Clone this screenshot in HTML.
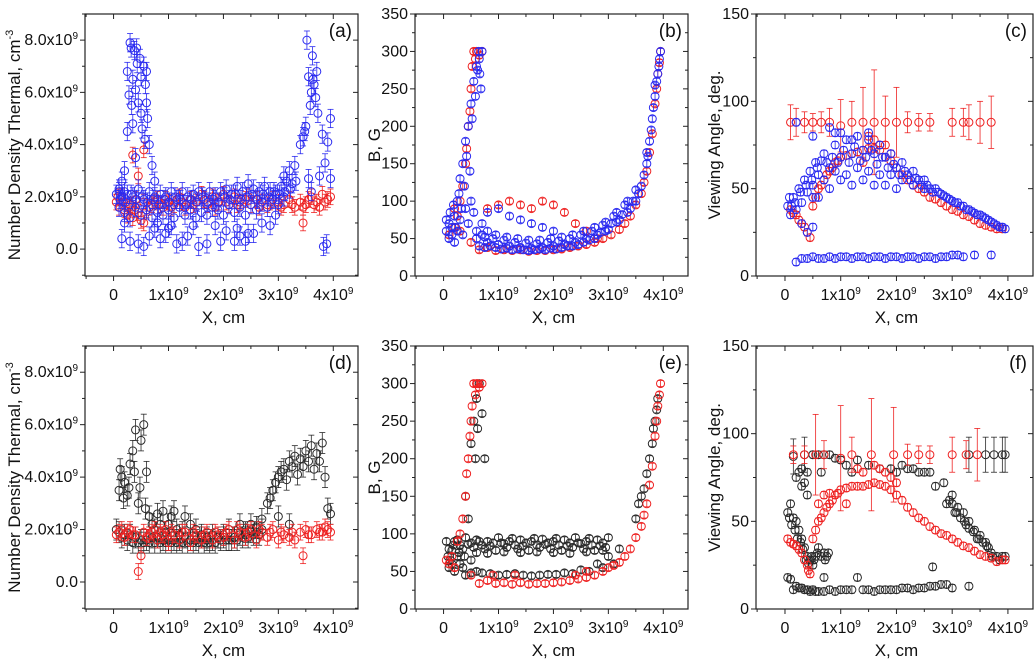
<!DOCTYPE html>
<html><head><meta charset="utf-8"><style>
html,body{margin:0;padding:0;background:#fff;width:1036px;height:664px;overflow:hidden}
svg{font-family:"Liberation Sans",sans-serif}
</style></head><body>
<svg id="fig" width="1036" height="664" viewBox="0 0 1036 664" xmlns="http://www.w3.org/2000/svg"></svg>
<script>
// ---- data (x in units of 1e9 cm) ----
const aBlue=[[0.1,2.2],[0.15,2.6],[0.2,3.0],[0.25,4.5],[0.28,5.9],[0.3,7.9],[0.32,7.7],[0.35,6.5],[0.38,7.6],[0.4,6.1],[0.43,7.1],[0.45,5.6],[0.48,7.3],[0.5,6.6],[0.52,4.6],[0.55,7.0],[0.58,6.3],[0.6,5.6],[0.62,5.0],[0.7,3.2],[0.65,4.0],[0.4,3.5],[0.35,4.8],[0.2,1.0],[0.15,0.4],[0.3,0.3],[0.45,0.2],[0.55,0.1],[0.65,0.5],[0.75,0.8],[0.85,0.4],[0.95,0.6],[1.05,0.9],[1.15,0.2],[1.25,0.3],[1.35,0.5],[1.45,0.9],[1.55,0.1],[1.7,0.2],[1.85,0.9],[1.95,0.3],[2.05,0.7],[2.2,0.3],[2.3,0.5],[2.4,0.3],[2.55,0.6],[2.7,1.0],[2.85,0.9],[2.95,1.3],
[0.05,2.1],[0.1,2.3],[0.15,2.0],[0.2,2.2],[0.25,2.1],[0.35,2.0],[0.45,2.3],[0.55,1.9],[0.65,2.2],[0.75,2.0],[0.85,2.1],[0.95,2.0],[1.05,2.2],[1.15,1.9],[1.25,2.2],[1.35,2.0],[1.45,2.1],[1.55,2.2],[1.65,1.9],[1.75,2.2],[1.85,2.0],[1.95,2.2],[2.05,2.3],[2.15,2.1],[2.25,2.4],[2.35,2.2],[2.45,2.5],[2.55,2.3],[2.65,2.2],[2.75,2.4],[2.85,2.2],[2.95,2.1],[3.05,2.4],[3.15,2.6],[3.25,2.5],
[0.1,1.6],[0.2,1.4],[0.3,1.2],[0.4,1.6],[0.5,1.3],[0.6,1.5],[0.7,1.2],[0.8,1.4],[0.9,1.3],[1.0,1.5],[1.1,1.2],[1.2,1.6],[1.3,1.3],[1.4,1.5],[1.5,1.2],[1.6,1.4],[1.7,1.3],[1.8,1.6],[1.9,1.5],[2.0,1.3],[2.1,1.7],[2.2,1.4],[2.3,1.6],[2.4,1.3],[2.5,1.7],[2.6,1.5],[2.7,1.8],[2.8,1.6],[2.9,1.9],[3.0,1.7],[3.1,2.0],
[3.1,2.8],[3.2,3.0],[3.3,3.2],[3.4,4.0],[3.45,4.3],[3.5,4.7],[3.52,8.0],[3.55,6.6],[3.6,6.0],[3.62,7.4],[3.65,6.3],[3.7,6.8],[3.72,5.2],[3.75,2.8],[3.8,4.4],[3.82,0.1],[3.85,3.3],[3.88,0.2],[3.9,4.1],[3.95,5.0],[3.95,2.7],[3.55,2.7],[3.6,2.2],
[0.12,1.9],[0.22,1.8],[0.32,2.1],[0.42,1.9],[0.52,2.0],[0.62,1.8],[0.72,1.9],[0.82,1.7],[0.92,1.9],[1.02,1.8],[1.12,2.0],[1.22,1.9],[1.32,1.7],[1.42,1.9],[1.52,1.8],[1.62,2.0],[1.72,1.8],[1.82,1.9],[1.92,1.8],[2.02,2.0],[2.12,1.9],[2.22,2.1],[2.32,1.9],[2.42,2.0],[2.52,2.1],[2.62,1.9],[2.72,2.1],[2.82,2.0],[2.92,2.2],[3.02,2.1],[3.12,2.2],[3.22,2.3],[3.32,2.6],
[0.25,6.8],[0.42,7.7],[0.5,5.2],[0.57,4.2],[0.6,6.8],[0.33,5.5],[3.48,4.5],[3.58,5.5],[3.68,5.8],[3.63,6.5],[0.75,2.6],[0.8,1.0],[1.0,0.8],[2.25,0.8],[2.45,0.6]];
const aRed=[[0.05,1.8],[0.1,1.6],[0.15,2.0],[0.2,1.5],[0.25,1.3],[0.3,1.7],[0.35,1.2],[0.4,1.9],[0.45,1.4],[0.5,1.1],[0.55,1.8],[0.6,1.5],[0.7,1.7],[0.8,1.9],[0.9,1.6],[1.0,1.8],[1.1,1.7],[1.2,2.0],[1.3,1.6],[1.4,1.9],[1.5,1.8],[1.6,2.1],[1.7,1.7],[1.8,2.0],[1.9,1.8],[2.0,2.1],[2.1,1.7],[2.2,2.0],[2.3,1.8],[2.4,1.9],[2.5,1.7],[2.6,1.9],[2.7,1.8],[2.8,1.7],[2.9,1.9],[3.0,1.8],[3.1,1.7],[3.2,1.9],[3.3,1.6],[3.4,1.8],[3.5,1.7],[3.6,2.0],[3.7,1.8],[3.8,2.1],[3.9,1.9],[3.95,2.0],[0.35,3.6],[0.55,3.8],[0.45,2.8],[3.45,1.0],[0.55,1.0],
[0.08,2.0],[0.18,1.8],[0.28,1.6],[0.38,1.5],[0.65,1.6],[0.75,1.8],[0.85,1.7],[0.95,1.9],[1.05,1.6],[1.25,1.8],[1.45,1.7],[1.65,1.9],[1.85,1.6],[2.05,1.8],[2.25,1.7],[2.45,2.0],[2.65,1.6],[2.85,1.8],[3.05,1.6],[3.25,1.7],[3.45,1.6],[3.65,1.7],[3.85,1.8],[3.75,1.6],[3.55,1.9]];
const dBlack=[[0.05,2.0],[0.1,3.5],[0.15,4.0],[0.2,3.8],[0.25,3.3],[0.3,4.5],[0.35,5.0],[0.4,5.8],[0.45,3.0],[0.5,5.4],[0.55,6.0],[0.6,4.2],[0.65,2.5],[0.7,2.2],[0.8,2.6],[0.9,2.7],[1.0,2.2],[1.1,2.7],[1.2,1.8],[1.3,2.5],[1.4,2.2],[1.5,2.0],[1.6,1.8],[1.7,1.7],[1.8,1.8],[1.9,1.7],[2.0,1.8],[2.1,2.0],[2.2,1.7],[2.3,2.2],[2.4,1.9],[2.5,2.2],[2.6,2.1],[2.7,2.4],[2.8,3.0],[2.9,3.5],[3.0,4.0],[3.1,4.3],[3.2,4.6],[3.3,4.8],[3.4,4.7],[3.5,5.0],[3.6,5.2],[3.7,4.9],[3.8,5.3],[3.9,2.8],[3.95,2.6],
[0.1,1.9],[0.2,1.8],[0.3,1.8],[0.5,1.6],[0.7,1.7],[0.9,1.6],[1.1,1.6],[1.3,1.7],[1.5,1.6],[1.7,1.6],[1.9,1.7],[2.1,1.6],[2.3,1.8],[2.5,1.9],[2.7,2.0],[3.0,2.5],[3.2,2.2],[0.4,1.7],[0.6,1.6],[0.8,1.7],[1.0,1.6],[1.2,1.6],[1.4,1.6],[1.6,1.7],[1.8,1.6],[2.0,1.7],[2.2,1.7],[2.4,1.8],[2.6,1.9],
[0.12,4.3],[0.18,3.2],[0.28,3.6],[0.38,4.2],[0.48,3.6],[0.58,2.8],[0.75,2.0],[0.85,2.2],[0.95,1.9],[1.05,2.5],[1.15,2.0],[1.25,1.9],[2.85,3.2],[2.95,3.8],[3.05,4.2],[3.15,3.9],[3.25,4.4],[3.35,4.1],[3.45,4.4],[3.55,4.6],[3.65,4.3],[3.75,4.6],[3.85,4.0],[0.15,1.7],[0.25,1.6],[0.35,1.5],[0.45,1.5],[0.55,1.5],[0.65,1.5],[0.75,1.5],[0.85,1.5],[0.95,1.5],[1.05,1.5],[1.15,1.5],[1.25,1.5],[1.35,1.5],[1.45,1.5],[1.55,1.5],[1.65,1.5],[1.75,1.5],[1.85,1.5],[1.95,1.6],[2.05,1.6],[2.15,1.6],[2.25,1.6],[2.35,1.7],[2.45,1.7],[2.55,1.8],[2.65,1.8]];
const dRed=[[0.05,1.8],[0.1,1.9],[0.2,1.7],[0.3,2.0],[0.4,1.8],[0.5,1.0],[0.45,0.4],[0.6,1.7],[0.7,1.9],[0.8,1.6],[0.9,1.8],[1.0,1.5],[1.1,1.8],[1.2,1.6],[1.3,1.9],[1.4,1.5],[1.5,1.8],[1.6,1.6],[1.7,1.9],[1.8,1.6],[1.9,1.8],[2.0,1.7],[2.1,2.0],[2.2,1.6],[2.3,1.9],[2.4,1.7],[2.5,2.0],[2.6,1.6],[2.7,1.9],[2.8,1.7],[2.9,2.0],[3.0,1.6],[3.1,1.8],[3.2,1.7],[3.3,1.6],[3.4,1.9],[3.45,1.0],[3.5,2.0],[3.6,1.8],[3.7,2.0],[3.8,1.9],[3.9,2.0],[3.95,1.9],
[0.15,2.0],[0.25,1.9],[0.35,1.8],[0.55,1.9],[0.65,1.8],[0.75,2.0],[0.85,1.9],[0.95,2.0],[1.05,1.9],[1.25,1.9],[1.45,1.9],[1.65,1.8],[1.85,1.9],[2.05,1.9],[2.25,2.0],[2.45,1.9],[2.65,2.0],[2.85,1.9],[3.05,1.9],[3.25,1.9],[3.55,1.8],[3.75,1.9],[3.85,2.1]];
const bBlue=[[0.05,60],[0.1,70],[0.15,55],[0.2,80],[0.25,100],[0.3,130],[0.35,150],[0.4,180],[0.45,200],[0.5,230],[0.55,260],[0.6,280],[0.65,290],[0.7,300],[0.62,275],[0.68,250],
[0.1,50],[0.15,65],[0.2,45],[0.25,60],[0.3,75],[0.35,55],[0.4,90],[0.45,70],[0.5,100],[0.55,85],[0.6,60],[0.7,70],[0.8,60],
[0.6,50],[0.8,45],[1.0,42],[1.2,40],[1.4,38],[1.6,37],[1.8,38],[2.0,40],[2.2,42],[2.4,45],[2.6,50],[2.8,55],[3.0,62],[3.2,75],[3.4,90],[3.5,100],[3.6,120],[3.7,150],[3.75,180],[3.8,210],[3.85,240],[3.9,270],[3.93,290],[3.95,300],
[0.7,55],[0.9,50],[1.1,48],[1.3,45],[1.5,44],[1.7,43],[1.9,45],[2.1,47],[2.3,50],[2.5,55],[2.7,60],[2.9,68],[3.1,80],[3.3,95],[3.5,115],[3.7,165],[3.85,255],
[0.8,85],[1.0,90],[1.2,80],[1.4,75],[1.6,70],[1.8,65],[2.0,60],
[0.05,75],[0.12,85],[0.18,95],[0.22,65],[0.28,110],[0.32,90],[0.38,120],[0.42,160],[0.48,140],[0.52,210],[0.58,240],[0.64,300],[0.66,270],
[0.65,40],[0.75,38],[0.85,40],[0.95,38],[1.05,36],[1.15,37],[1.25,35],[1.35,36],[1.45,35],[1.55,34],[1.65,35],[1.75,36],[1.85,35],[1.95,37],[2.05,36],[2.15,38],[2.25,40],[2.35,40],[2.45,42],[2.55,45],[2.65,48],[2.75,50],[2.85,58],[2.95,60],[3.05,70],[3.15,72],[3.25,82],[3.35,85],[3.45,100],[3.55,110],[3.65,135],[3.72,160],[3.78,195],[3.82,225],[3.88,260],[3.92,280],
[0.75,52],[0.95,55],[1.15,52],[1.35,50],[1.55,48],[1.75,48],[1.95,50],[2.15,52],[2.35,55],[2.55,60],[2.75,65],[2.95,72],[3.15,85],[3.35,100]];
const bRed=[[0.3,100],[0.4,150],[0.45,200],[0.5,250],[0.55,300],[0.6,300],[0.65,295],[0.7,300],[0.5,45],[0.8,38],[1.1,35],[1.4,35],[1.7,34],[2.0,35],[2.3,38],[2.6,42],[2.9,50],[3.2,62],[3.4,80],[3.6,110],[3.7,140],[3.8,190],[3.85,230],[3.9,270],[3.95,300],
[0.8,90],[1.0,95],[1.2,100],[1.4,95],[1.6,90],[1.8,100],[2.0,95],[2.2,85],[2.4,70],[2.6,60],[2.8,50],[0.1,55],[0.2,65],[0.3,60],
[0.35,120],[0.42,170],[0.48,220],[0.52,280],[0.58,290],[0.25,80],[0.2,90],[0.65,35],[0.95,34],[1.25,34],[1.55,33],[1.85,34],[2.15,36],[2.45,40],[2.75,45],[3.05,55],[3.3,70],[3.5,95],[3.65,125],[3.75,165],[3.88,250],[3.93,285]];
const eBlack=[[0.1,80],[0.2,90],[0.3,85],[0.4,95],[0.5,88],[0.6,92],[0.7,85],[0.8,90],[0.9,88],[1.0,95],[1.1,87],[1.2,90],[1.3,85],[1.4,92],[1.5,88],[1.6,90],[1.7,85],[1.8,93],[1.9,88],[2.0,90],[2.1,85],[2.2,92],[2.3,88],[2.4,95],[2.5,87],[2.6,90],[2.7,85],[2.8,92],[2.9,88],[3.0,95],
[0.15,78],[0.35,80],[0.55,82],[0.75,80],[0.95,78],[1.15,82],[1.35,80],[1.55,78],[1.75,82],[1.95,80],[2.15,78],[2.35,82],[2.55,80],[2.75,78],[2.95,82],
[0.1,55],[0.2,50],[0.3,60],[0.4,45],[0.7,48],[1.0,45],[1.3,47],[1.6,44],[1.9,46],[2.2,48],[2.5,52],[2.8,60],[3.0,70],[3.2,80],
[0.4,150],[0.5,220],[0.55,250],[0.6,280],[0.65,300],[0.75,200],[3.5,120],[3.6,150],[3.7,180],[3.8,220],[3.85,250],[3.9,280],
[0.25,92],[0.45,86],[0.65,90],[0.85,84],[1.05,88],[1.25,94],[1.45,84],[1.65,94],[1.85,86],[2.05,94],[2.25,84],[2.45,88],[2.65,94],[2.85,84],[0.05,90],[0.08,70],[0.12,65],[0.18,85],[0.28,75],[0.38,70],[0.5,65],[0.6,75],[0.8,74],[1.1,76],[1.4,75],[1.7,76],[2.0,75],[2.3,74],[2.6,76],[2.9,78],
[0.15,60],[0.25,70],[0.35,55],[0.5,48],[0.6,50],[0.85,47],[1.15,46],[1.45,45],[1.75,45],[2.05,46],[2.35,47],[2.65,50],[2.9,55],[3.1,60],[0.45,120],[0.58,200],[0.62,240],[0.7,260],[3.55,140],[3.65,160],[3.75,200],[3.82,240],[3.88,265]];
const eRed=[[0.1,60],[0.2,55],[0.3,100],[0.4,150],[0.45,200],[0.5,250],[0.55,300],[0.6,300],[0.65,295],[0.7,300],[0.5,45],[0.8,38],[1.1,35],[1.4,35],[1.7,34],[2.0,35],[2.3,38],[2.6,42],[2.9,50],[3.2,62],[3.4,80],[3.6,110],[3.7,140],[3.8,190],[3.85,230],[3.9,270],[3.95,300],[0.9,45],[1.3,45],[2.4,45],[2.6,50],[3.0,55],
[0.35,120],[0.42,180],[0.48,230],[0.52,270],[0.58,285],[0.62,300],[0.65,34],[0.95,34],[1.25,33],[1.55,33],[1.85,34],[2.15,36],[2.45,40],[2.75,45],[3.1,58],[3.3,70],[3.5,95],[3.65,125],[3.75,165],[3.88,250],[3.93,285],[0.15,70],[0.25,90],[0.05,65]];
const cBlue=[[0.05,40],[0.1,35],[0.15,45],[0.2,38],[0.25,50],[0.3,42],[0.35,55],[0.4,48],[0.45,60],[0.5,52],[0.55,65],[0.6,58],[0.7,70],[0.8,62],[0.9,75],[1.0,68],[1.1,78],[1.2,70],[1.3,80],[1.4,72],[1.5,78],[1.6,70],[1.7,75],[1.8,68],[1.9,70],[2.0,62],[2.1,65],[2.2,58],[2.3,60],[2.4,55],[2.5,55],[2.6,50],[2.7,50],[2.8,47],[2.9,45],[3.0,43],[3.1,42],[3.2,40],[3.3,38],[3.4,36],[3.5,35],[3.6,33],[3.7,31],[3.8,29],[3.9,28],
[0.5,45],[0.7,55],[0.9,60],[1.1,58],[1.3,62],[1.5,60],[1.7,58],[1.9,58],[2.1,55],[2.3,52],[2.5,50],[0.3,30],[0.4,25],[0.5,28],[0.2,88],[0.5,80],[0.8,85],[1.0,82],
[0.2,8],[0.4,10],[0.6,10],[0.8,11],[1.0,11],[1.2,10],[1.4,11],[1.6,11],[1.8,10],[2.0,11],[2.2,11],[2.4,10],[2.6,11],[2.8,11],[3.0,12],[3.2,11],[3.4,12],[3.7,12],
[0.3,10],[0.5,11],[0.7,10],[0.9,10],[1.1,11],[1.3,11],[1.5,10],[1.7,11],[1.9,11],[2.1,10],[2.3,11],[2.5,11],[2.7,10],[2.9,11],[3.1,12],
[0.08,45],[0.12,40],[0.18,42],[0.28,48],[0.38,52],[0.48,55],[0.58,62],[0.65,66],[0.75,65],[0.85,68],[0.95,65],[1.05,72],[1.15,65],[1.25,74],[1.35,66],[1.45,68],[1.55,72],[1.65,64],[1.75,68],[1.85,62],[1.95,64],[2.05,58],[2.15,60],[2.25,55],[2.35,56],[2.45,52],[2.55,52],[2.65,48],[2.75,48],[2.85,46],[2.95,44],[3.05,42],[3.15,40],[3.25,38],[3.35,37],[3.45,35],[3.55,34],[3.65,32],[3.75,30],[3.85,28],[3.95,27],
[0.6,45],[0.8,50],[1.0,55],[1.2,52],[1.4,55],[1.6,52],[1.8,52],[2.0,50],[0.9,82],[1.2,78],[1.5,82]];
const cRed=[[0.1,38],[0.2,35],[0.3,30],[0.4,25],[0.5,40],[0.6,50],[0.7,55],[0.8,60],[0.9,65],[1.0,68],[1.2,70],[1.4,72],[1.6,73],[1.8,68],[2.0,62],[2.2,55],[2.4,50],[2.6,45],[2.8,42],[3.0,38],[3.2,35],[3.4,32],[3.6,29],[3.8,27],[3.9,27],[1.4,65],[1.6,78],[1.7,75],[1.9,70],
[0.15,36],[0.25,32],[0.35,28],[0.45,22],[0.55,45],[0.65,52],[0.75,58],[0.85,62],[0.95,66],[1.1,69],[1.3,71],[1.5,73],[1.7,72],[1.9,66],[2.1,58],[2.3,52],[2.5,48],[2.7,44],[2.9,40],[3.1,37],[3.3,34],[3.5,30],[3.7,28],[1.5,80],[1.8,75]];
const cRed88X=[0.1,0.2,0.35,0.5,0.65,0.8,1.0,1.2,1.4,1.6,1.8,2.0,2.2,2.4,2.6,3.0,3.2,3.3,3.5,3.7];
const cRed88Y=[88,88,88,88,88,88,86,88,88,88,88,88,88,88,88,88,88,88,88,88];
const cRed88Err=[10,8,6,5,6,8,15,12,20,30,15,20,6,5,5,8,8,10,12,15];
const fBlack=[[0.3,80],[0.5,88],[0.6,88],[0.7,88],[0.8,88],[1.0,85],[1.3,85],[1.9,80],[2.2,80],[2.4,78],[2.6,78],[2.7,70],[2.85,72],[0.4,78],[0.65,78],[1.5,82],[1.7,80],
[2.95,62],[3.0,65],[3.1,58],[3.2,55],[3.3,50],[3.4,45],[3.5,42],[3.6,38],[3.7,32],[3.8,30],[3.9,30],[3.05,55],[3.25,48],[3.45,40],[3.65,35],
[0.05,55],[0.1,60],[0.15,52],[0.2,50],[0.25,45],[0.3,40],[0.35,35],[0.4,30],[0.45,28],[0.5,25],[0.55,30],[0.6,35],[0.7,32],[0.75,30],[0.2,75],[0.3,70],[0.4,65],
[0.1,17],[0.2,13],[0.3,12],[0.4,11],[0.5,11],[0.6,10],[0.8,11],[1.0,11],[1.2,11],[1.4,11],[1.6,10],[1.8,11],[2.0,11],[2.2,12],[2.4,12],[2.6,13],[2.8,14],[3.0,12],[0.7,18],[1.3,18],[2.65,24],[3.3,13],
[0.15,11],[0.25,12],[0.35,11],[0.45,10],[0.55,10],[0.7,10],[0.9,10],[1.1,11],[1.5,11],[1.7,11],[1.9,11],[2.1,12],[2.3,11],[2.5,12],[2.7,13],[2.9,14],[0.05,18],
[0.08,52],[0.12,48],[0.18,45],[0.22,40],[0.28,38],[0.32,34],[0.38,28],[0.42,26],[0.48,30],[0.52,28],[0.58,32],[0.65,30],[0.72,28],[0.78,32],
[3.0,60],[3.08,55],[3.15,52],[3.22,50],[3.3,46],[3.38,44],[3.48,40],[3.55,38],[3.62,36],[3.72,30],[3.85,28],[3.95,30],[2.9,60],[0.9,86],[1.1,82],[1.2,78],[2.0,78],[2.1,82],[2.3,80],[2.5,78],[0.25,78],[0.35,72]];
const fBlack88X=[3.3,3.6,3.75,3.9,3.95,0.15,0.35];
const fBlack88Y=[88,88,88,88,88,87,88];
const fRed=[[0.1,38],[0.2,36],[0.3,32],[0.4,25],[0.45,20],[0.5,40],[0.6,50],[0.7,55],[0.8,60],[0.9,65],[1.0,68],[1.2,70],[1.4,70],[1.6,72],[1.8,70],[2.0,65],[2.2,58],[2.4,52],[2.6,47],[2.8,43],[3.0,40],[3.2,36],[3.4,33],[3.6,30],[3.8,27],[3.9,28],[1.3,80],[1.6,82],[1.8,78],[0.7,65],[1.1,60],
[0.05,40],[0.15,37],[0.25,34],[0.35,28],[0.42,22],[0.55,45],[0.65,52],[0.75,58],[0.85,62],[0.95,66],[1.1,69],[1.3,70],[1.5,71],[1.7,71],[1.9,68],[2.1,62],[2.3,55],[2.5,50],[2.7,45],[2.9,42],[3.1,38],[3.3,35],[3.5,31],[3.7,29],[3.95,28],[1.4,78],[1.7,80],[1.9,75],[2.0,72],[0.6,60],[0.8,66]];
const fRed88X=[0.15,0.35,0.55,0.7,1.0,1.2,1.55,1.95,2.2,2.4,2.6,3.0,3.25,3.45];
const fRed88Y=[88,88,88,88,86,88,88,88,88,88,88,88,88,88];
const fRed88Err=[5,5,23,8,30,10,32,27,6,5,5,10,8,15];
const BLUE='#2a2af0',RED='#ee2222',BLK='#2a2a2a';
// ---- drawing ----
const svg=document.getElementById('fig');
const NS='http://www.w3.org/2000/svg';
function mk(tag,attrs,parent){const e=document.createElementNS(NS,tag);for(const k in attrs)e.setAttribute(k,attrs[k]);(parent||svg).appendChild(e);return e;}
const XMIN=-0.52,XMAX=4.45;
function panel(id,L,T,R,B,ymin,ymax,yticks,yfmt,minorY,ytitle,ytitleX,series){
  const g=mk('g',{});
  
  
  const sx=v=>L+(v-XMIN)/(XMAX-XMIN)*(R-L);
  const sy=v=>B-(v-ymin)/(ymax-ymin)*(B-T);
  const clipId='clip'+id;
  const cp=mk('clipPath',{id:clipId},g);mk('rect',{x:L,y:T,width:R-L,height:B-T},cp);
  const dg=mk('g',{'clip-path':'url(#'+clipId+')'},g);
  
  
  series.forEach(s=>{
    s.pts.forEach((p,i)=>{
      const cx=sx(p[0]),cy=sy(p[1]);
      const e=s.err?s.err[i]:s.e;
      if(e){
        mk('line',{x1:cx,x2:cx,y1:sy(p[1]-e),y2:sy(p[1]+e),stroke:s.c,'stroke-width':0.8},dg);
        mk('line',{x1:cx-3,x2:cx+3,y1:sy(p[1]-e),y2:sy(p[1]-e),stroke:s.c,'stroke-width':0.8},dg);
        mk('line',{x1:cx-3,x2:cx+3,y1:sy(p[1]+e),y2:sy(p[1]+e),stroke:s.c,'stroke-width':0.8},dg);}
      const c=mk('circle',{cx:cx,cy:cy,r:4,fill:'none',stroke:s.c,'stroke-width':1},dg);
      
      
    });
  });
  const fr=mk('rect',{x:L,y:T,width:R-L,height:B-T,fill:'none',stroke:'#222','stroke-width':1.2},g);
  
  
  const xt=[0,1,2,3,4];
  for(let v=-0.5;v<=4.45;v+=0.5){const x=sx(v);const major=Math.abs(v-Math.round(v))<1e-6;
    mk('line',{x1:x,x2:x,y1:B,y2:B+(major?5:3),stroke:'#222'},g);
    mk('line',{x1:x,x2:x,y1:T,y2:T+(major?5:3),stroke:'#222'},g);}
  xt.forEach(v=>{const t=mk('text',{x:sx(v),y:B+24,'font-size':16,'text-anchor':'middle',fill:'#111'},g);
    
    
    if(v===0)t.textContent='0';else{t.textContent=v+'x10';const sp=mk('tspan',{dy:-6,'font-size':10},t);sp.textContent='9';}});
  const xl=mk('text',{x:(sx(0)+sx(4))/2,y:B+47,'font-size':17,'text-anchor':'middle',fill:'#111'},g);
  xl.textContent='X, cm';
  
  
  minorY.forEach(v=>{const y=sy(v);mk('line',{x1:L,x2:L-3,y1:y,y2:y,stroke:'#222'},g);mk('line',{x1:R,x2:R-3,y1:y,y2:y,stroke:'#222'},g);});
  yticks.forEach(v=>{const y=sy(v);mk('line',{x1:L,x2:L-5,y1:y,y2:y,stroke:'#222'},g);mk('line',{x1:R,x2:R-5,y1:y,y2:y,stroke:'#222'},g);
    const t=mk('text',{x:L-7,y:y+5,'font-size':16,'text-anchor':'end',fill:'#111'},g);
    
    
    yfmt(v,t);});
  const yt=mk('text',{transform:'translate('+ytitleX+','+((T+B)/2)+') rotate(-90)','font-size':17,'text-anchor':'middle',fill:'#111'},g);
  ytitle(yt);
  
  
  const pl=mk('text',{x:R-6,y:T+23,'font-size':19,'text-anchor':'end',fill:'#111'},g);
  pl.textContent='('+id+')';
  
  
}
const densFmt=(v,t)=>{if(v===0){t.textContent='0.0';return;}t.textContent=v.toFixed(1)+'x10';const sp=mk('tspan',{dy:-6,'font-size':10},t);sp.textContent='9';};
const numFmt=(v,t)=>{t.textContent=String(v);};
const densTitle=t=>{t.textContent='Number Density Thermal, cm';const sp=mk('tspan',{dy:-7,'font-size':11},t);sp.textContent='-3';};
const bTitle=t=>{t.textContent='B, G';};
const vTitle=t=>{t.textContent='Viewing Angle, deg.';};
const dTicks=[0,2,4,6,8],dMinor=[-1,1,3,5,7,9];
const bTicks=[0,50,100,150,200,250,300,350],bMinor=[25,75,125,175,225,275,325];
const vTicks=[0,50,100,150],vMinor=[25,75,125];
panel('a',85,14,358,276,-1.03,9.0,dTicks,densFmt,dMinor,densTitle,20,[{pts:aRed,c:RED,e:0.3},{pts:aBlue,c:BLUE,e:0.35}]);
panel('b',415,14,688,276,0,350,bTicks,numFmt,bMinor,bTitle,380,[{pts:bRed,c:RED,e:4},{pts:bBlue,c:BLUE,e:4}]);
panel('c',756,14,1033,276,0,150,vTicks,numFmt,vMinor,vTitle,720,[{pts:cRed88X.map((x,i)=>[x,cRed88Y[i]]),c:RED,err:cRed88Err},{pts:cRed,c:RED,e:2},{pts:cBlue,c:BLUE,e:2}]);
panel('d',85,346,358,609,-1.03,9.0,dTicks,densFmt,dMinor,densTitle,20,[{pts:dBlack,c:BLK,e:0.4},{pts:dRed,c:RED,e:0.3}]);
panel('e',415,346,688,609,0,350,bTicks,numFmt,bMinor,bTitle,380,[{pts:eBlack,c:BLK,e:4},{pts:eRed,c:RED,e:4}]);
panel('f',756,346,1033,609,0,150,vTicks,numFmt,vMinor,vTitle,720,[{pts:fBlack88X.map((x,i)=>[x,fBlack88Y[i]]),c:BLK,e:10},{pts:fBlack,c:BLK,e:2},{pts:fRed88X.map((x,i)=>[x,fRed88Y[i]]),c:RED,err:fRed88Err},{pts:fRed,c:RED,e:2}]);
</script>
</body></html>
